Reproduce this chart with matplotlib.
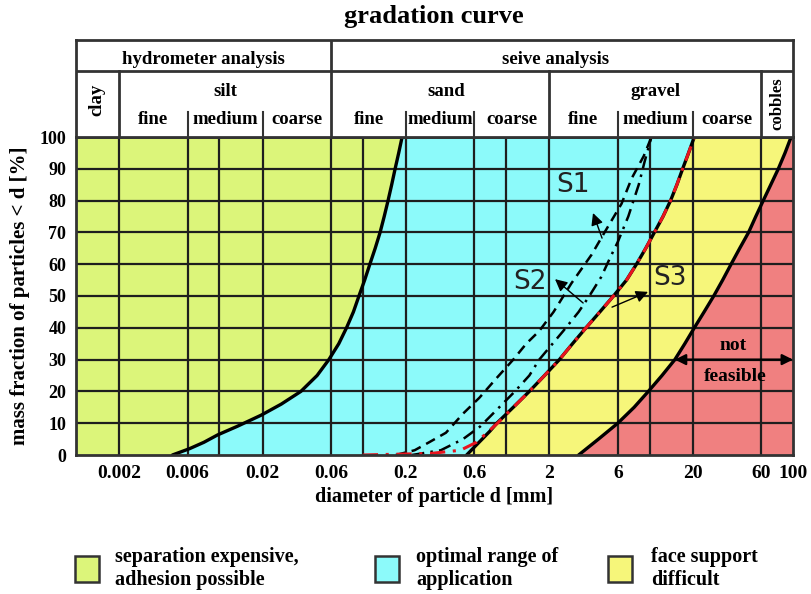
import numpy as np
import matplotlib
matplotlib.use('Agg')
import matplotlib.pyplot as plt
from matplotlib.patches import Rectangle
from matplotlib.ticker import NullLocator

# ---------------- data ----------------
x_ticks = [0.002, 0.006, 0.02, 0.06, 0.2, 0.6, 2, 6, 20, 60, 100]
x_tick_labels = ['0.002', '0.006', '0.02', '0.06', '0.2', '0.6', '2', '6', '20', '60', '100']
x_grid = [0.002, 0.006, 0.01, 0.02, 0.06, 0.1, 0.2, 0.6, 1, 2, 6, 10, 20, 60]
y_ticks = [0, 10, 20, 30, 40, 50, 60, 70, 80, 90, 100]

# boundary lime / cyan
b1_pct = [0, 1, 2, 4, 6.3, 9, 12.5, 16, 20, 25, 30, 35, 40, 45, 50, 55, 60, 65, 70, 75, 80, 85, 90, 95, 100]
b1_d = [0.0047, 0.0054, 0.0062, 0.0078, 0.0097, 0.0133, 0.0195, 0.027, 0.037, 0.048, 0.058, 0.068, 0.077,
        0.086, 0.094, 0.103, 0.112, 0.122, 0.132, 0.141, 0.150, 0.159, 0.168, 0.178, 0.188]
# boundary cyan / yellow
b2_pct = [0, 2.5, 5, 7.5, 10, 15, 20, 25, 30, 35, 40, 45, 50, 55, 60, 65, 70, 75, 80, 85, 90, 95, 100]
b2_d = [0.53, 0.60, 0.68, 0.77, 0.86, 1.12, 1.45, 1.85, 2.35, 2.9, 3.6, 4.5, 5.6, 6.9, 8.1, 9.4, 10.8,
        12.4, 14.0, 15.5, 17.0, 18.7, 20.5]
# boundary yellow / red
b3_pct = [0, 5, 10, 15, 20, 25, 30, 35, 40, 45, 50, 55, 60, 65, 70, 75, 80, 85, 90, 95, 100]
b3_d = [3.2, 4.4, 6.0, 7.8, 9.8, 12.2, 15.0, 17.6, 20.5, 24.0, 28.0, 32.3, 37.0, 42.5, 49.0, 55.0,
        62.0, 70.0, 79.0, 88.0, 97.0]
# S1 (dashed)
s1_pct = [0, 1.5, 4, 7, 13, 18, 24, 30, 35, 39, 45, 54, 63, 70, 79, 87, 94, 100]
s1_d = [0.17, 0.23, 0.29, 0.38, 0.50, 0.65, 0.85, 1.12, 1.38, 1.70, 2.14, 2.85, 3.94, 4.85, 6.37, 7.5, 9.1, 10.3]
# S2 (dash-dot)
s2_pct = [0, 1.5, 5, 9, 14, 20, 25, 30, 39, 45, 50, 56, 62, 67, 75, 85, 92, 100]
s2_d = [0.22, 0.35, 0.50, 0.66, 0.85, 1.15, 1.45, 1.70, 2.5, 3.2, 3.8, 4.6, 5.3, 6.0, 7.1, 8.4, 9.2, 10.3]
# S3 (red dash-dot)
s3_pct = [0, 0.5, 1.5, 4, 10, 15, 20, 25, 30, 35, 40, 45, 50, 55, 60, 65, 70, 75, 80, 85, 90, 95, 100]
s3_d = [0.10, 0.30, 0.48, 0.62, 0.87, 1.12, 1.45, 1.85, 2.35, 2.9, 3.6, 4.5, 5.6, 6.9, 8.1, 9.4, 10.8,
        12.4, 14.0, 15.5, 17.0, 18.7, 20.5]

LIME = '#dcf57a'
CYAN = '#8cfafa'
YELLOW = '#f6f67a'
RED = '#f08080'
GRID = '#1e1e1e'

SERIF = 'Liberation Serif'

# ---------------- figure ----------------
W, H = 811, 594
fig = plt.figure(figsize=(W / 100, H / 100), dpi=100)
fig.patch.set_facecolor('white')


def fx(px):
    return px / W


def fy(py):
    return 1 - py / H


L, R, T, B = 76, 793, 137, 455
HT = 40
XMIN, XMAX = 0.001, 100

ax = fig.add_axes([fx(L), fy(B), fx(R) - fx(L), fy(T) - fy(B)])
ax.set_xscale('log')
ax.set_xlim(XMIN, XMAX)
ax.set_ylim(0, 100)

# fills
ax.fill(np.r_[XMIN, b1_d, XMIN], np.r_[0, b1_pct, 100], color=LIME, lw=0, zorder=0)
ax.fill(np.r_[b1_d, b2_d[::-1]], np.r_[b1_pct, b2_pct[::-1]], color=CYAN, lw=0, zorder=0)
ax.fill(np.r_[b2_d, b3_d[::-1]], np.r_[b2_pct, b3_pct[::-1]], color=YELLOW, lw=0, zorder=0)
ax.fill(np.r_[b3_d, XMAX, XMAX], np.r_[b3_pct, 100, 0], color=RED, lw=0, zorder=0)

# grid
for g in x_grid:
    ax.axvline(g, color=GRID, lw=1.6, zorder=1)
for g in y_ticks[1:-1]:
    ax.axhline(g, color=GRID, lw=1.6, zorder=1)

# curves
ckw = dict(color='black', lw=2.4, zorder=3, solid_capstyle='round', solid_joinstyle='round')
ax.plot(b1_d, b1_pct, **ckw)
ax.plot(b2_d, b2_pct, **ckw)
ax.plot(b3_d, b3_pct, **ckw)
ax.plot(s1_d, s1_pct, color='black', lw=1.8, ls=(0, (4, 2.5)), zorder=3)
ax.plot(s2_d, s2_pct, color='black', lw=1.8, ls=(0, (5, 2.5, 1, 2.5)), zorder=3)
ax.plot(s3_d, s3_pct, color='#e8141e', lw=2.2, ls=(0, (5, 2.5, 1, 2.5)), zorder=4)

# S labels and arrows
arrow_kw = dict(arrowstyle='-|>', color='black', lw=1.0, mutation_scale=18, shrinkA=0, shrinkB=0)
ax.annotate('', xy=(4.03, 76.1), xytext=(4.66, 68.2), arrowprops=arrow_kw, zorder=5)
ax.annotate('', xy=(2.19, 55.3), xytext=(3.44, 47.8), arrowprops=arrow_kw, zorder=5)
ax.annotate('', xy=(9.75, 51.3), xytext=(5.47, 46.5), arrowprops=arrow_kw, zorder=5)
skw = dict(fontsize=19, ha='center', va='center', family='DejaVu Sans', color='#222222', zorder=6)
ax.text(2.92, 84.9, 'S1', **skw)
ax.text(1.47, 54.4, 'S2', **skw)
ax.text(13.9, 55.7, 'S3', **skw)

# not feasible
ax.annotate('', xy=(15.0, 30), xytext=(100, 30),
            arrowprops=dict(arrowstyle='<|-|>', color='black', lw=1.6, mutation_scale=16, shrinkA=0, shrinkB=0),
            zorder=5)
ax.text(38.2, 34.3, 'not', fontsize=14, fontweight='bold', family=SERIF, ha='center', va='center', zorder=6)
ax.text(39.5, 24.8, 'feasible', fontsize=14, fontweight='bold', family=SERIF, ha='center', va='center', zorder=6)

# ticks
ax.xaxis.set_minor_locator(NullLocator())
ax.set_xticks(x_ticks)
ax.set_xticklabels(x_tick_labels)
ax.set_yticks(y_ticks)
ax.tick_params(axis='both', which='both', length=0)
ax.tick_params(axis='x', pad=7)
ax.tick_params(axis='y', pad=7)
for lab in ax.get_xticklabels():
    lab.set_fontfamily(SERIF)
    lab.set_fontweight('bold')
    lab.set_fontsize(14)
for lab in ax.get_yticklabels():
    lab.set_fontfamily(SERIF)
    lab.set_fontweight('bold')
    lab.set_fontsize(13)
for sp in ax.spines.values():
    sp.set_linewidth(2)
    sp.set_color('#333333')
    sp.set_zorder(7)

# ---------------- header table ----------------
hx = fig.add_axes([fx(L), fy(T), fx(R) - fx(L), fy(HT) - fy(T)])
hx.set_xscale('log')
hx.set_xlim(XMIN, XMAX)
hx.set_ylim(0, 1)
hx.xaxis.set_minor_locator(NullLocator())
hx.set_xticks([])
hx.set_yticks([])
for sp in hx.spines.values():
    sp.set_linewidth(2)
    sp.set_color('#333333')
ROW = (T - 71) / (T - HT)
SUB = (T - 112) / (T - HT)
LC = '#333333'
hx.axhline(ROW, color=LC, lw=2)
hx.plot([0.06, 0.06], [0, 1], color=LC, lw=2)
for d in [0.002, 2, 60]:
    hx.plot([d, d], [0, ROW], color=LC, lw=2)
for d in [0.006, 0.02, 0.2, 0.6, 6, 20]:
    hx.plot([d, d], [0, SUB], color=LC, lw=1.5)

hkw = dict(fontsize=13.5, fontweight='bold', family=SERIF, ha='center', va='center')
yr1 = (T - 59) / (T - HT)
yup = (T - 92) / (T - HT)
ylo = (T - 120) / (T - HT)
hx.text(0.0077, yr1, 'hydrometer analysis', **hkw)
hx.text(2.2, yr1, 'seive analysis', **hkw)
hx.text(0.011, yup, 'silt', **hkw)
hx.text(0.38, yup, 'sand', **hkw)
hx.text(10.95, yup, 'gravel', **hkw)
for d, t in [(0.00346, 'fine'), (0.011, 'medium'), (0.0346, 'coarse'),
             (0.11, 'fine'), (0.346, 'medium'), (1.1, 'coarse'),
             (3.46, 'fine'), (11.0, 'medium'), (34.6, 'coarse')]:
    hx.text(d, ylo, t, **hkw)
hx.text(0.0014, (T - 100) / (T - HT), 'clay', rotation=90, **hkw)
hx.text(77.5, (T - 104) / (T - HT), 'cobbles', rotation=90, fontsize=12, fontweight='bold',
        family=SERIF, ha='center', va='center')

# ---------------- titles ----------------
fig.text(fx(434), fy(17), 'gradation curve', fontsize=19, fontweight='bold', family=SERIF,
         ha='center', va='center')
fig.text(fx(434), fy(497), 'diameter of particle d [mm]', fontsize=14.5, fontweight='bold',
         family=SERIF, ha='center', va='center')
fig.text(fx(20), fy(296), 'mass fraction of particles < d [%]', fontsize=15, fontweight='bold',
         family=SERIF, ha='center', va='center', rotation=90)

# ---------------- legend ----------------
legend_items = [
    (75, LIME, 115, 'separation expensive,', 'adhesion possible'),
    (375, CYAN, 416, 'optimal range of', 'application'),
    (608, YELLOW, 651, 'face support', 'difficult'),
]
for bx, col, tx, l1, l2 in legend_items:
    fig.patches.append(Rectangle((fx(bx), fy(582)), fx(bx + 24) - fx(bx), fy(556) - fy(582),
                                 transform=fig.transFigure, facecolor=col, edgecolor='#333333',
                                 lw=1.8, figure=fig))
    fig.text(fx(tx), fy(557), l1, fontsize=14.5, fontweight='bold', family=SERIF, ha='left', va='center')
    fig.text(fx(tx), fy(580), l2, fontsize=14.5, fontweight='bold', family=SERIF, ha='left', va='center')

fig.savefig('out.png', dpi=100)
